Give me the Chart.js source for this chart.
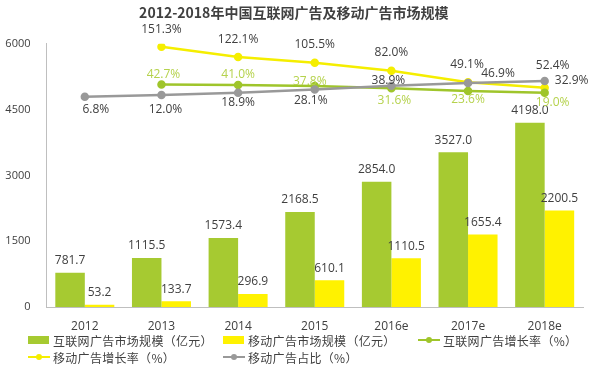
<!DOCTYPE html>
<html>
<head>
<meta charset="utf-8">
<script src="https://cdn.jsdelivr.net/npm/chart.js@4.4.1/dist/chart.umd.min.js"></script>
<style>
  html, body { margin: 0; padding: 0; background: #fff; }
  #wrap   { position: relative; width: 600px; height: 367px; overflow: hidden; }
  #box    { position: absolute; left: 0; top: 0; width: 600px; height: 335px; }
  #legend { position: absolute; left: 0; top: 332px; width: 600px; height: 35px;
            font: 12px "Noto Sans CJK SC", sans-serif; color: #404040; letter-spacing: 0.3px; }
  .item   { position: absolute; display: flex; align-items: center; white-space: nowrap; height: 16px; }
  .sw     { position: relative; width: 22px; height: 16px; margin-right: 3px; }
  .sw .bar  { position: absolute; left: 0; top: 4px; width: 21px; height: 8px; }
  .sw .line { position: absolute; left: 0; top: 7px; width: 22px; height: 2px; }
  .sw .dot  { position: absolute; left: 8px; top: 5px; width: 6px; height: 6px; border-radius: 50%; }
</style>
</head>
<body>
<div id="wrap">
  <div id="box"><canvas id="chart"></canvas></div>
  <div id="legend"></div>
</div>
<script>
// ── Data ────────────────────────────────────────────────────────────────────
const years          = ['2012', '2013', '2014', '2015', '2016e', '2017e', '2018e'];
const netAdSize      = [781.7, 1115.5, 1573.4, 2168.5, 2854.0, 3527.0, 4198.0];
const mobileAdSize   = [53.2, 133.7, 296.9, 610.1, 1110.5, 1655.4, 2200.5];
const netAdGrowth    = [null, 42.7, 41.0, 37.8, 31.6, 23.6, 19.0];
const mobileAdGrowth = [null, 151.3, 122.1, 105.5, 82.0, 49.1, 32.9];
const mobileShare    = [6.8, 12.0, 18.9, 28.1, 38.9, 46.9, 52.4];
const sizeTicks      = [0, 1500, 3000, 4500, 6000];

// label offsets (dx, dy) from each point, px
const netGrowthOff    = [null, [2, -10], [0, -10], [-5, -5], [3, 12], [0, 9], [8, 10]];
const mobileGrowthOff = [null, [0, -17], [0, -17], [0, -18], [0, -18], [-1, -18], [27, -7]];
const shareOff        = [[11, 13], [4, 15], [0, 10], [-4, 11], [-3, -5], [30, -9], [8, -15]];

// ── Colours ─────────────────────────────────────────────────────────────────
const GREEN = '#a6ca31', YELLOW = '#fff200', GREEN_LINE = '#9fc52b',
      YELLOW_LINE = '#f5ee00', GRAY_LINE = '#999999', TEXT = '#404040',
      GREEN_TEXT = '#b5d24c', AXIS = '#bfbfbf';
const FONT = '"Open Sans", "Noto Sans CJK SC", sans-serif';

// ── Value labels plugin ────────────────────────────────────────────────────
const valueLabels = {
  id: 'valueLabels',
  afterDatasetsDraw(chart) {
    const ctx = chart.ctx;
    ctx.save();
    ctx.textAlign = 'center';
    ctx.textBaseline = 'middle';
    ctx.font = '12px ' + FONT;
    chart.data.datasets.forEach((ds, i) => {
      const meta = chart.getDatasetMeta(i);
      meta.data.forEach((el, j) => {
        const v = ds.data[j];
        if (v == null) return;
        const off = ds.labelOffsets ? ds.labelOffsets[j] : [0, -12];
        const txt = ds.type === 'line' ? v.toFixed(1) + '%' : v.toFixed(1);
        ctx.fillStyle = ds.labelColor || TEXT;
        ctx.fillText(txt, el.x + off[0], el.y + off[1]);
      });
    });
    ctx.restore();
  }
};

const lineStyle = (color) => ({
  type: 'line', yAxisID: 'y1', borderColor: color, backgroundColor: color,
  borderWidth: 2.5, pointRadius: 3, pointHoverRadius: 3, tension: 0, spanGaps: false,
});

const chart = new Chart(document.getElementById('chart'), {
  data: {
    labels: years,
    datasets: [
      { type: 'bar', label: '互联网广告市场规模（亿元）', data: netAdSize, backgroundColor: GREEN,
        yAxisID: 'y', categoryPercentage: 0.77, barPercentage: 1.0, order: 2 },
      { type: 'bar', label: '移动广告市场规模（亿元）', data: mobileAdSize, backgroundColor: YELLOW,
        yAxisID: 'y', categoryPercentage: 0.77, barPercentage: 1.0, order: 2 },
      { ...lineStyle(GREEN_LINE), label: '互联网广告增长率（%）', data: netAdGrowth,
        labelOffsets: netGrowthOff, labelColor: GREEN_TEXT, order: 1 },
      { ...lineStyle(YELLOW_LINE), label: '移动广告增长率（%）', data: mobileAdGrowth,
        labelOffsets: mobileGrowthOff, order: 1 },
      { ...lineStyle(GRAY_LINE), label: '移动广告占比（%）', data: mobileShare,
        labelOffsets: shareOff, order: 0 },
    ]
  },
  options: {
    responsive: true, maintainAspectRatio: false, animation: false,
    layout: { padding: { left: 4.5, right: 17, top: 0, bottom: 2 } },
    plugins: {
      legend: { display: false },
      tooltip: { enabled: false },
      title: {
        display: true, text: '2012-2018年中国互联网广告及移动广告市场规模',
        color: TEXT, font: { family: '"Noto Sans CJK SC", sans-serif', size: 14, weight: 'bold' },
        padding: { top: 4, bottom: 23 }
      }
    },
    scales: {
      x: {
        grid: { display: false, drawTicks: false },
        border: { display: true, color: AXIS, width: 1 },
        ticks: { color: TEXT, font: { family: FONT, size: 12 }, padding: 12 },
        afterFit: axis => { axis.height = 26; }
      },
      y: {
        min: 0, max: 6000,
        afterBuildTicks: axis => { axis.ticks = sizeTicks.map(v => ({ value: v })); },
        grid: { display: false, drawTicks: false },
        border: { display: true, color: AXIS, width: 1 },
        ticks: { color: TEXT, font: { family: FONT, size: 11 }, padding: 16,
                 callback: v => String(v) },
        afterFit: axis => { axis.width = 42; }
      },
      y1: { display: false, min: -600, max: 160 }
    }
  },
  plugins: [valueLabels]
});

// ── HTML legend (fixed 3-column grid) ──────────────────────────────────────
const legend = document.getElementById('legend');
chart.data.datasets.forEach((ds, i) => {
  const item = document.createElement('div');
  item.className = 'item';
  item.style.left = (28 + (i % 3) * 195) + 'px';
  item.style.top = (Math.floor(i / 3) * 17) + 'px';
  const sw = document.createElement('div');
  sw.className = 'sw';
  if (ds.type === 'bar') {
    sw.innerHTML = `<div class="bar" style="background:${ds.backgroundColor}"></div>`;
  } else {
    sw.innerHTML = `<div class="line" style="background:${ds.borderColor}"></div>` +
                   `<div class="dot" style="background:${ds.borderColor}"></div>`;
  }
  const txt = document.createElement('span');
  txt.textContent = ds.label;
  item.appendChild(sw);
  item.appendChild(txt);
  legend.appendChild(item);
});
</script>
</body>
</html>
